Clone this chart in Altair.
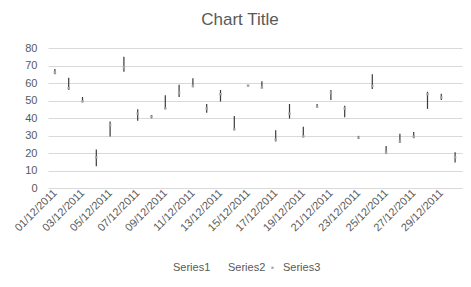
import altair as alt
import pandas as pd

dates = [f"{d:02d}/12/2011" for d in range(1, 31)]
high = [68, 63, 52, 22, 38, 75, 45, 41.7, 53, 59, 62.7, 48, 56, 41.2, 58.8, 61, 33, 48, 35, 48,
        56, 47, 29.8, 65, 24, 31, 32, 55, 53.8, 20.5]
low = [65, 56, 49, 12.5, 29.5, 66.5, 38.5, 39.8, 45.2, 52, 57.6, 43, 49.4, 33.2, 58.2, 57, 26.6, 39.7, 29, 46,
       50.3, 40.5, 28, 56.6, 19.6, 25.7, 28.5, 45.2, 50.3, 14.6]
close = [66, 57, 49.5, 17.5, 36, 69, 42.5, 40.8, 45.5, 54.5, 58.3, 45.4, 53.6, 33.5, 58.5, 57.4, 27.6, 42.5, 29.5, 46.5,
         54.5, 45.4, 28.8, 58.3, 20.3, 26.6, 29.4, 53.6, 51.7, 17.5]
series_names = ["Series1", "Series2", "Series3"]
y_ticks = [0, 10, 20, 30, 40, 50, 60, 70, 80]

df = pd.DataFrame({"date": dates, "high": high, "low": low, "close": close})

FONT = "Liberation Sans"
TXT = "#595959"

x_axis = alt.Axis(title=None, values=dates[::2], labelAngle=-45,
                  labelAlign="right", labelBaseline="middle",
                  labelPadding=3, ticks=False, domain=False,
                  labelFont=FONT, labelFontSize=11, labelColor=TXT,
                  labelOverlap=False, labelFlush=False)
y_axis = alt.Axis(title=None, values=y_ticks, ticks=False, domain=False,
                  gridColor="#d9d9d9", gridWidth=1, labelPadding=11,
                  labelOverlap=False, labelFlush=False,
                  labelFont=FONT, labelFontSize=11, labelColor=TXT)
x_scale = alt.Scale(type="point", padding=0.5)
y_scale = alt.Scale(domain=[0, 80], nice=False)

rules = alt.Chart(df).mark_rule(color="#3a3a3a", strokeWidth=1.2).encode(
    x=alt.X("date:N", sort=dates, scale=x_scale, axis=x_axis),
    y=alt.Y("low:Q", scale=y_scale, axis=y_axis),
    y2="high:Q",
)

points = alt.Chart(df).transform_calculate(series="'Series3'").mark_square(
    size=6, opacity=1
).encode(
    x=alt.X("date:N", sort=dates, scale=x_scale, axis=x_axis),
    y=alt.Y("close:Q", scale=y_scale, axis=y_axis),
    color=alt.Color("series:N",
                    scale=alt.Scale(domain=series_names,
                                    range=["transparent", "transparent", "#a5a5a5"]),
                    legend=alt.Legend(title=None, orient="none", direction="horizontal",
                                      legendX=109, legendY=214, symbolType="square",
                                      symbolSize=5, symbolStrokeWidth=0, labelOffset=5,
                                      columnPadding=1, padding=0,
                                      labelFont=FONT, labelFontSize=11, labelColor=TXT)),
)

chart = alt.layer(rules, points).properties(
    width=414, height=140,
    autosize=alt.AutoSizeParams(type="none"),
    padding={"left": 48, "top": 48, "right": 9, "bottom": 99},
    title=alt.TitleParams("Chart Title", font=FONT, fontSize=17, fontWeight="normal",
                          color=TXT, anchor="middle", dx=-15, offset=13),
).configure_view(stroke=None)

chart.save("out.html", embed_options={"renderer": "svg", "actions": False})
